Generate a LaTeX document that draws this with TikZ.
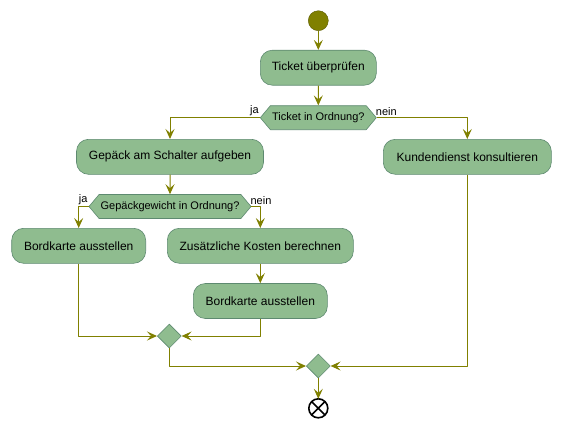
\documentclass[tikz,border=0pt]{standalone}
\usepackage{fontspec}
\setmainfont{Liberation Sans}
\usetikzlibrary{arrows.meta,shapes.geometric,shapes.symbols}
\definecolor{actgreen}{HTML}{8FBC8F}
\definecolor{actborder}{HTML}{5E8A70}
\definecolor{flowolive}{HTML}{808000}
\tikzset{
	act/.style={draw=actborder, fill=actgreen, rounded corners=12pt, minimum 
		height=35, inner sep=0pt, line width=0.6pt},
	ask/.style={draw=actborder, fill=actgreen, signal, signal to=west and east, 
		signal pointer angle=100, minimum height=24, inner sep=0pt, line 
		width=0.6pt, font=\fontsize{11}{13}\selectfont},
	merge/.style={draw=actborder, fill=actgreen, diamond, minimum width=24, 
		minimum height=24, inner sep=0pt, line width=0.6pt},
	lbl/.style={inner sep=1pt, font=\fontsize{11}{13}\selectfont},
}
\begin{document}
\begin{tikzpicture}[x=1pt, y=-1pt, font=\fontsize{12}{14}\selectfont, line 
	join=round, >={Stealth[length=10pt,width=9pt,inset=4pt]}, 
	flow/.style={->, draw=flowolive, line width=1pt}]
	\useasboundingbox (0,0) rectangle (561,428);
	\node[circle, fill=flowolive, draw=flowolive!70!black, minimum size=20, 
	inner sep=0pt] (start) at (318.3,20.7) {};
	\node[act, minimum width=116] (t1) at (318.3,67.7) {Ticket überprüfen};
	\node[ask, minimum width=116] (d1) at (318.3,117.7) {Ticket in Ordnung?};
	\node[act, minimum width=187] (g1) at (170,156.8) {Gepäck am Schalter aufgeben};
	\node[act, minimum width=168] (k1) at (467.3,156.8) {Kundendienst konsultieren};
	\node[ask, minimum width=162] (d2) at (170,206.5) {Gepäckgewicht in Ordnung?};
	\node[act, minimum width=134] (b1) at (78.7,245.8) {Bordkarte ausstellen};
	\node[act, minimum width=186] (z1) at (260.3,245.8) {Zusätzliche Kosten berechnen};
	\node[act, minimum width=134] (b2) at (260.3,301) {Bordkarte ausstellen};
	\node[merge] (m1) at (169.3,336) {};
	\node[merge] (m2) at (318.3,366) {};
	\node[circle, draw=black, fill=white, line width=1.6pt, minimum size=19, 
	inner sep=0pt, outer sep=0pt] (stop) at (318.3,408.3) {};
	\draw[line width=1.6pt] (stop.45) -- (stop.225) (stop.135) -- (stop.315);
	% labels of the branches
	\node[lbl, anchor=south east, yshift=1] (ja1) at (d1.west) {ja};
	\node[lbl, anchor=south west, xshift=-2, yshift=1] (nein1) at (d1.east) {nein};
	\node[lbl, anchor=south east, yshift=1] (ja2) at (d2.west) {ja};
	\node[lbl, anchor=south west, xshift=-2, yshift=1] (nein2) at (d2.east) {nein};
	% connectors
	\foreach \a/\b in {start/t1, t1/d1, g1/d2, z1/b2, m2/stop}
	\draw[flow] (\a) -- (\b);
	\draw[flow] (d1.west) -| (g1.north);
	\draw[flow] (d1.east) -| (k1.north);
	\draw[flow] (d2.west) -| (b1.north);
	\draw[flow] (d2.east) -| (z1.north);
	\draw[flow] (b1.south) |- (m1.west);
	\draw[flow] (b2.south) |- (m1.east);
	\draw[flow] (m1.south) |- (m2.west);
	\draw[flow] (k1.south) |- (m2.east);
\end{tikzpicture}
\end{document}
